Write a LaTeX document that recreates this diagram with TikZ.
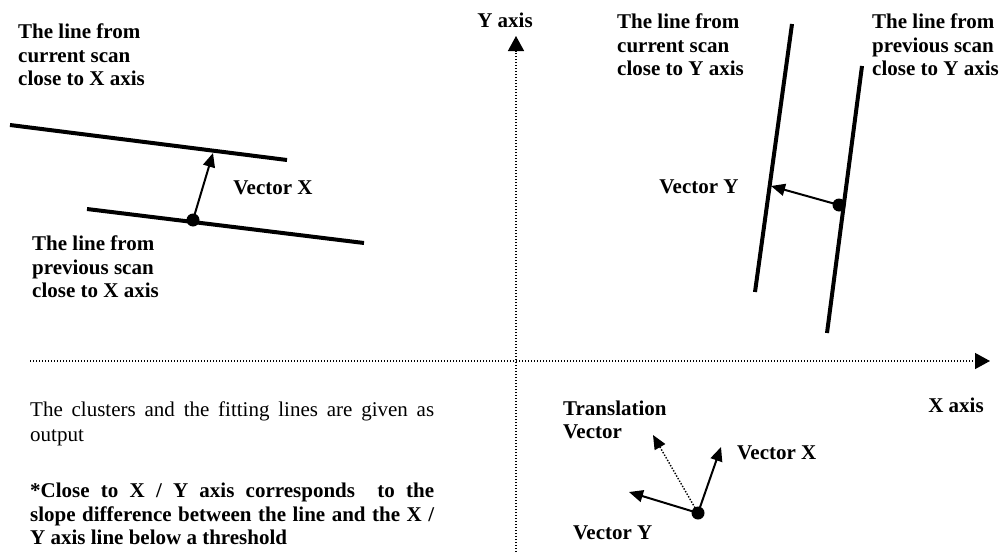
\documentclass[tikz,border=0pt]{standalone}
\usepackage{fontspec}
\setmainfont{Liberation Serif}
\usepackage{tikz}
\usetikzlibrary{arrows.meta,positioning}

\begin{document}
\begin{tikzpicture}[
  x=1pt,y=-1pt,
  lbl/.style={inner sep=0pt,font=\fontsize{21}{23.5}\selectfont\bfseries,align=left},
  note/.style={inner sep=0pt,text width=404pt,align=justify,anchor=north west},
  axis/.style={line width=1.4pt,dash pattern=on 1.4pt off 1.6pt,-{Triangle[length=15pt,width=16pt]}},
  scanline/.style={line width=4pt},
  vec/.style={line width=2pt,-{Triangle[length=14pt,width=12pt]}},
  transvec/.style={vec,line width=1.4pt,dash pattern=on 1.4pt off 1.6pt},
  pt/.style={circle,fill=black,inner sep=0pt,minimum size=13pt}
]
  \useasboundingbox (0,0) rectangle (1004,554);

  % axes
  \coordinate (xstart) at (30,361);
  \coordinate (xend) at (990,361);
  \coordinate (ystart) at (516,552);
  \coordinate (yend) at (516,36);
  \draw[axis] (xstart) -- (xend);
  \draw[axis] (ystart) -- (yend);
  \node[lbl] (ylbl) at (505,20) {Y axis};
  \node[lbl] (xlbl) at (956,405) {X axis};

  % lines close to X axis
  \coordinate (curxa) at (10,125);
  \coordinate (curxb) at (287,160);
  \coordinate (prevxa) at (87,209);
  \coordinate (prevxb) at (364,243);
  \draw[scanline] (curxa) -- (curxb);
  \draw[scanline] (prevxa) -- (prevxb);
  \node[pt] (dotx) at (193,220) {};
  \coordinate (tipx) at (213,153);
  \draw[vec] (dotx.center) -- (tipx);
  \node[lbl] (vecx) at (273,188) {Vector X};
  \node[lbl,anchor=west] (curxlbl) at (18,55) {The line from\\current scan\\close to X axis};
  \node[lbl,anchor=west] (prevxlbl) at (32,267) {The line from\\previous scan\\close to X axis};

  % lines close to Y axis
  \coordinate (curya) at (792,24);
  \coordinate (curyb) at (755,292);
  \coordinate (prevya) at (862,66);
  \coordinate (prevyb) at (827,333);
  \draw[scanline] (curya) -- (curyb);
  \draw[scanline] (prevya) -- (prevyb);
  \node[pt] (doty) at (839,205) {};
  \coordinate (tipy) at (771,186);
  \draw[vec] (doty.center) -- (tipy);
  \node[lbl] (vecy) at (699,187) {Vector Y};
  \node[lbl,anchor=west] (curylbl) at (617,45) {The line from\\current scan\\close to Y axis};
  \node[lbl,anchor=west] (prevylbl) at (872,45) {The line from\\previous scan\\close to Y axis};

  % translation
  \node[pt] (dott) at (698,513) {};
  \coordinate (tvx) at (721,447);
  \coordinate (tvy) at (629,492);
  \coordinate (tvt) at (653,435);
  \draw[vec] (dott.center) -- (tvx);
  \draw[vec] (dott.center) -- (tvy);
  \draw[transvec] (dott.center) -- (tvt);
  \node[lbl,anchor=west] (translbl) at (563,420) {Translation\\Vector};
  \node[lbl,anchor=west] (tvxlbl) at (737,453) {Vector X};
  \node[lbl,anchor=west] (tvylbl) at (573,533) {Vector Y};

  % notes
  \node[note,font=\fontsize{21}{25}\selectfont] (out) at (30,402)
    {The clusters and the fitting lines are given as\linebreak output};
  \node[note,font=\fontsize{21}{23.5}\selectfont\bfseries] (close) at (30,483)
    {*Close to X / Y axis corresponds\ \ to the\linebreak slope difference between the line and the X /\linebreak Y axis line below a threshold};
\end{tikzpicture}
\end{document}
